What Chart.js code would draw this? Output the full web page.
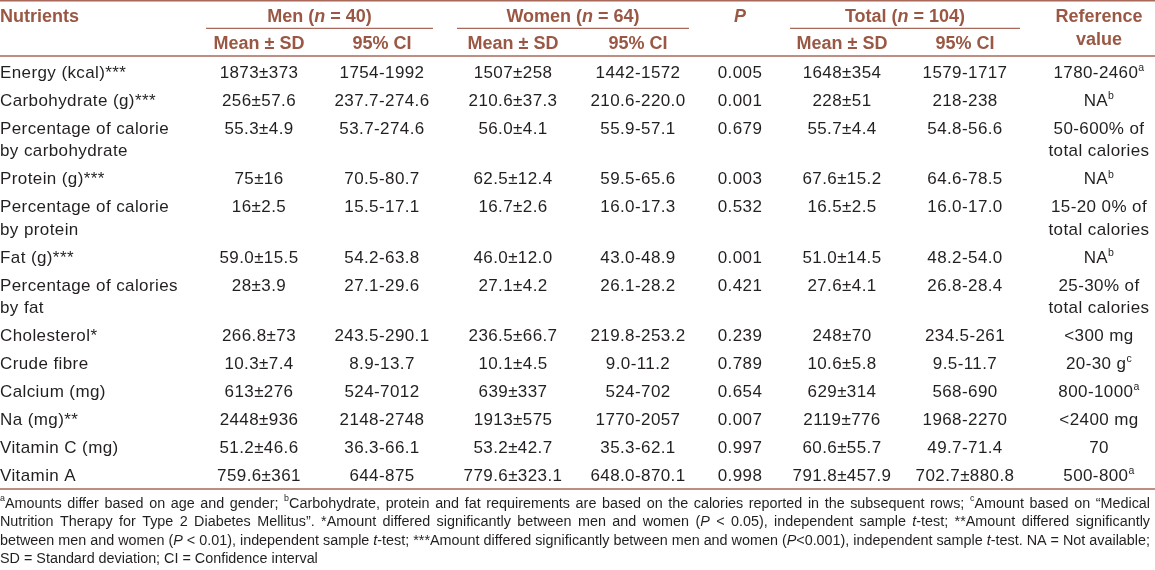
<!DOCTYPE html>
<html>
<head>
<meta charset="utf-8">
<script src="https://cdn.jsdelivr.net/npm/chart.js@4.4.0/dist/chart.umd.min.js"></script>
<style>
html,body{margin:0;padding:0;background:#ffffff;}
#wrap{width:1155px;height:570px;position:relative;}
</style>
</head>
<body>
<div id="wrap"><canvas id="c"></canvas></div>
<script>
// ---------------- DATA ----------------
const nutrients = [
  "Energy (kcal)***",
  "Carbohydrate (g)***",
  "Percentage of calorie\nby carbohydrate",
  "Protein (g)***",
  "Percentage of calorie\nby protein",
  "Fat (g)***",
  "Percentage of calories\nby fat",
  "Cholesterol*",
  "Crude fibre",
  "Calcium (mg)",
  "Na (mg)**",
  "Vitamin C (mg)",
  "Vitamin A"
];
const menMeanSD = ["1873±373","256±57.6","55.3±4.9","75±16","16±2.5","59.0±15.5","28±3.9","266.8±73","10.3±7.4","613±276","2448±936","51.2±46.6","759.6±361"];
const menCI = ["1754-1992","237.7-274.6","53.7-274.6","70.5-80.7","15.5-17.1","54.2-63.8","27.1-29.6","243.5-290.1","8.9-13.7","524-7012","2148-2748","36.3-66.1","644-875"];
const womenMeanSD = ["1507±258","210.6±37.3","56.0±4.1","62.5±12.4","16.7±2.6","46.0±12.0","27.1±4.2","236.5±66.7","10.1±4.5","639±337","1913±575","53.2±42.7","779.6±323.1"];
const womenCI = ["1442-1572","210.6-220.0","55.9-57.1","59.5-65.6","16.0-17.3","43.0-48.9","26.1-28.2","219.8-253.2","9.0-11.2","524-702","1770-2057","35.3-62.1","648.0-870.1"];
const pValues = [0.005,0.001,0.679,0.003,0.532,0.001,0.421,0.239,0.789,0.654,0.007,0.997,0.998];
const totalMeanSD = ["1648±354","228±51","55.7±4.4","67.6±15.2","16.5±2.5","51.0±14.5","27.6±4.1","248±70","10.6±5.8","629±314","2119±776","60.6±55.7","791.8±457.9"];
const totalCI = ["1579-1717","218-238","54.8-56.6","64.6-78.5","16.0-17.0","48.2-54.0","26.8-28.4","234.5-261","9.5-11.7","568-690","1968-2270","49.7-71.4","702.7±880.8"];
const referenceValue = ["1780-2460^a","NA^b","50-600% of\ntotal calories","NA^b","15-20 0% of\ntotal calories","NA^b","25-30% of\ntotal calories","<300 mg","20-30 g^c","800-1000^a","<2400 mg","70","500-800^a"];

const groupHeaders = [
  {runs:[{t:"Men ("},{t:"n",it:1},{t:" = 40)"}], cols:[1,2]},
  {runs:[{t:"Women ("},{t:"n",it:1},{t:" = 64)"}], cols:[3,4]},
  {runs:[{t:"Total ("},{t:"n",it:1},{t:" = 104)"}], cols:[6,7]}
];
const subHeaders = ["Mean ± SD","95% CI"];

const footnotes = [
  [{t:"a",sup:1},{t:"Amounts differ based on age and gender; "},{t:"b",sup:1},{t:"Carbohydrate, protein and fat requirements are based on the calories reported in the subsequent rows; "},{t:"c",sup:1},{t:"Amount based on \u201cMedical"}],
  [{t:"Nutrition Therapy for Type 2 Diabetes Mellitus\u201d. *Amount differed significantly between men and women ("},{t:"P",it:1},{t:" < 0.05), independent sample "},{t:"t",it:1},{t:"-test; **Amount differed significantly"}],
  [{t:"between men and women ("},{t:"P",it:1},{t:" < 0.01), independent sample "},{t:"t",it:1},{t:"-test; ***Amount differed significantly between men and women ("},{t:"P",it:1},{t:"<0.001), independent sample "},{t:"t",it:1},{t:"-test. NA = Not available;"}],
  [{t:"SD = Standard deviation; CI = Confidence interval"}]
];

// ---------------- LAYOUT (positions / styles) ----------------
const W = 1155, H = 570;
const colX = [0, 259, 382, 513, 638, 740, 842, 965, 1099];
const firstRowY = 72, rowStep = 28, innerLine = 22.3;
const groupLine = [[206,433],[457,689],[790,1020]];
const FONT = '"Liberation Sans", Arial, Helvetica, sans-serif';
const BODY = 17, HEAD = 18, FOOT = 15.5;
const INK = '#231f20', BROWN = '#9a5844', RULE = '#a8695a';

const columns = [
  {values: nutrients, align:'left'},
  {values: menMeanSD}, {values: menCI},
  {values: womenMeanSD}, {values: womenCI},
  {values: pValues.map(v=>v.toFixed(3))},
  {values: totalMeanSD}, {values: totalCI},
  {values: referenceValue}
];

// row positions derived from how many lines each row occupies
const rowY = [];
nutrients.reduce((y, n) => { rowY.push(y); return y + rowStep + (n.split("\n").length - 1) * innerLine; }, firstRowY);

// ---------------- helpers ----------------
function fontStr(r, base){
  const sz = r.sup ? base * 0.62 : base;
  return (r.it ? 'italic ' : '') + (r.b ? 'bold ' : '') + sz + 'px ' + FONT;
}
function parseCell(s){
  const m = s.match(/^(.*)\^(\w)$/);
  return m ? [{t:m[1]},{t:m[2],sup:1}] : [{t:s}];
}
function runsWidth(ctx, runs, base){
  let w = 0;
  runs.forEach(r => { ctx.font = fontStr(r, base); w += ctx.measureText(r.t).width; });
  return w;
}
function drawRuns(ctx, runs, x, y, align, base, color){
  const w = runsWidth(ctx, runs, base);
  let cx = align === 'center' ? x - w/2 : (align === 'right' ? x - w : x);
  ctx.textAlign = 'left'; ctx.textBaseline = 'alphabetic'; ctx.fillStyle = color;
  runs.forEach(r => {
    ctx.font = fontStr(r, base);
    ctx.fillText(r.t, cx, r.sup ? y - base*0.4 : y);
    cx += ctx.measureText(r.t).width;
  });
}
function countSpaces(runs){ return runs.reduce((n,r)=>n+(r.t.match(/ /g)||[]).length,0); }

const tablePlugin = {
  id: 'tableText',
  afterDatasetsDraw(chart){
    const ctx = chart.ctx;
    const xs = chart.scales.x, ys = chart.scales.y;
    const X = v => xs.getPixelForValue(v), Y = v => ys.getPixelForValue(v);
    const unitY = Y(1) - Y(0);
    ctx.save();

    // rules
    ctx.strokeStyle = RULE;
    const hline = (x0, x1, y, lw) => { ctx.lineWidth = lw; ctx.beginPath(); ctx.moveTo(X(x0), Y(y)); ctx.lineTo(X(x1), Y(y)); ctx.stroke(); };
    hline(0, W, 0.8, 1.6);
    hline(0, W, 56, 1.6);
    hline(0, W, 489, 1.6);
    groupLine.forEach(g => hline(g[0], g[1], 28.3, 1.3));

    // header text (bold brown)
    ctx.letterSpacing = '0px';
    const hb = (runs) => runs.map(r => Object.assign({b:1}, r));
    drawRuns(ctx, hb([{t:"Nutrients"}]), X(0), Y(21.5), 'left', HEAD, BROWN);
    groupHeaders.forEach((g, i) => {
      drawRuns(ctx, hb(g.runs), X((groupLine[i][0] + groupLine[i][1]) / 2), Y(21.5), 'center', HEAD, BROWN);
      g.cols.forEach((c, k) => drawRuns(ctx, hb([{t:subHeaders[k]}]), X(colX[c]), Y(49), 'center', HEAD, BROWN));
    });
    drawRuns(ctx, hb([{t:"P", it:1}]), X(colX[5]), Y(21.5), 'center', HEAD, BROWN);
    drawRuns(ctx, hb([{t:"Reference"}]), X(colX[8]), Y(21.5), 'center', HEAD, BROWN);
    drawRuns(ctx, hb([{t:"value"}]), X(colX[8]), Y(45), 'center', HEAD, BROWN);

    // body cells, positioned by the dataset points
    ctx.letterSpacing = '0.4px';
    chart.data.datasets.forEach((ds, di) => {
      const meta = chart.getDatasetMeta(di);
      const col = columns[di];
      meta.data.forEach((pt, i) => {
        const lines = String(col.values[i]).split("\n");
        lines.forEach((line, k) => {
          drawRuns(ctx, parseCell(line), pt.x, pt.y + 6 + k * innerLine * unitY, col.align || 'center', BODY, INK);
        });
      });
    });

    // footnotes (condensed to fit, justified)
    ctx.letterSpacing = '0px';
    const fx0 = X(0), fx1 = X(1150);
    const target = fx1 - fx0;
    const naturals = footnotes.map(l => runsWidth(ctx, l, FOOT));
    let sx = 1;
    naturals.slice(0, 3).forEach(n => { sx = Math.min(sx, target / n); });
    const fy = [502, 520.5, 539, 557.5];
    footnotes.forEach((runs, li) => {
      const justify = li < footnotes.length - 1;
      const extra = justify ? Math.max(0, (target - naturals[li] * sx) / countSpaces(runs)) : 0;
      ctx.save();
      ctx.translate(fx0, Y(fy[li] + 5.5));
      ctx.scale(sx, 1);
      ctx.fillStyle = INK; ctx.textAlign = 'left'; ctx.textBaseline = 'alphabetic';
      let cx = 0;
      runs.forEach(r => {
        ctx.font = fontStr(r, FOOT);
        const parts = r.t.split(' ');
        parts.forEach((p, i) => {
          if (p) { ctx.fillText(p, cx, r.sup ? -FOOT*0.4 : 0); cx += ctx.measureText(p).width; }
          if (i < parts.length - 1) cx += ctx.measureText(' ').width + extra / sx;
        });
      });
      ctx.restore();
    });
    ctx.restore();
  }
};

const datasets = columns.map((col, ci) => ({
  label: 'col' + ci,
  data: col.values.map((v, i) => ({x: colX[ci], y: rowY[i]})),
  pointRadius: 0, pointHoverRadius: 0, showLine: false
}));

new Chart(document.getElementById('c'), {
  type: 'scatter',
  data: { datasets },
  options: {
    responsive: true, maintainAspectRatio: false, animation: false, devicePixelRatio: 1,
    layout: { padding: 0 },
    events: [],
    plugins: { legend: {display:false}, tooltip: {enabled:false}, title: {display:false} },
    scales: {
      x: { type:'linear', min:0, max:W, display:false },
      y: { type:'linear', min:0, max:H, reverse:true, display:false }
    }
  },
  plugins: [tablePlugin]
});
</script>
</body>
</html>
